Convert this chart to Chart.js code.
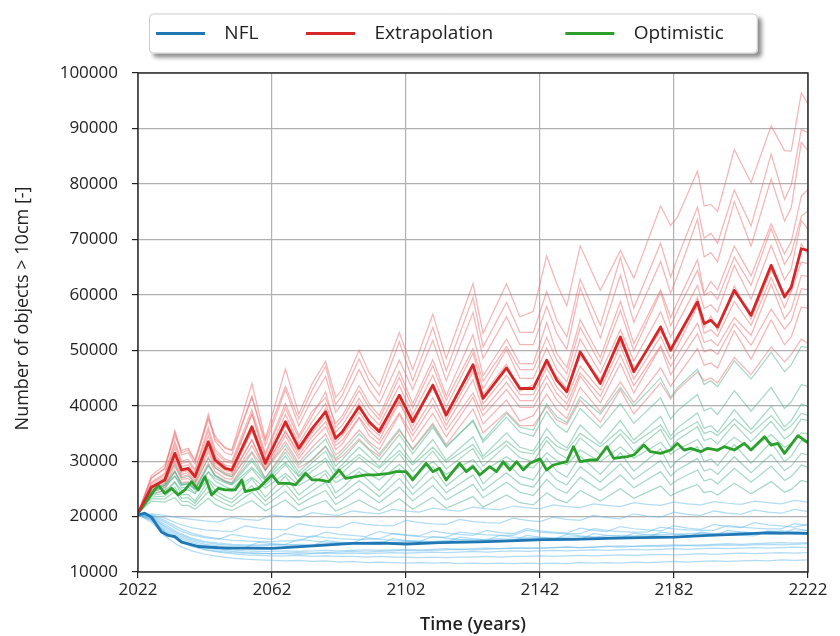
<!DOCTYPE html>
<html>
<head>
<meta charset="utf-8">
<script src="https://cdn.jsdelivr.net/npm/chart.js@4/dist/chart.umd.min.js"></script>
<style>
  html, body { margin: 0; padding: 0; background: #ffffff; }
  #wrap { width: 840px; height: 636px; }
</style>
</head>
<body>
<div id="wrap"><canvas id="c" width="840" height="636"></canvas></div>
<script>
// ---- series names -------------------------------------------------------
const seriesNames = ['NFL', 'Extrapolation', 'Optimistic'];

// ---- ensemble means (years at the turning points of each curve) ----------
const blueYears = [2022,2024,2026,2029,2031,2033,2035,2040,2048,2054,2062,2073,2086,2095,2102,2112,2124,2133,2143,2152,2162,2172,2182,2192,2200,2210,2222];
const blueMean  = [20300,20600,19900,17200,16600,16400,15400,14600,14300,14300,14250,14650,15150,15200,15050,15300,15450,15600,15850,15900,16050,16200,16300,16600,16800,17050,16950];

const redYears = [2022,2026,2030,2033,2035,2037,2039,2043,2045,2048,2050,2056,2060,2066,2070,2074,2078,2081,2083,2088,2091,2094,2100,2104,2110,2114,2122,2125,2132,2136,2140,2144,2147,2150,2154,2160,2166,2170,2178,2181,2183,2189,2191,2193,2195,2200,2205,2211,2215,2217,2220,2222];
const redMean  = [20600,25300,26600,31400,28400,28700,27200,33500,30200,28700,28400,36200,29600,37100,32300,35900,38900,34100,35300,39800,37100,35300,41900,37100,43700,38300,47400,41300,46800,43100,43100,48200,44600,42500,49700,44000,52400,46100,54200,50000,52300,58700,54800,55400,54200,60800,56300,65300,59600,61400,68300,68000];

const greenYears = [2022,2028,2030,2032,2034,2036,2038,2040,2042,2044,2046,2048,2051,2053,2054,2058,2062,2064,2067,2069,2072,2074,2076,2079,2082,2084,2087,2090,2093,2097,2099,2102,2104,2108,2110,2112,2114,2118,2120,2122,2124,2127,2129,2131,2133,2135,2137,2139,2142,2144,2146,2150,2152,2154,2157,2159,2162,2164,2168,2170,2173,2175,2178,2181,2183,2185,2187,2190,2192,2195,2197,2200,2203,2205,2209,2211,2213,2215,2219,2222];
const greenMean  = [20600,25700,24200,25100,23900,24800,26300,24800,27200,23900,25100,24800,24800,26600,24500,25100,27500,26000,26000,25700,27800,26600,26600,26300,28400,26900,27200,27500,27500,27800,28100,28100,26600,29600,28100,28700,26600,29600,28100,29000,27500,29000,28100,29900,28400,29900,28400,29600,30400,28400,29300,29900,32600,29900,30200,30200,32600,30500,30800,31100,32900,31700,31400,32000,33200,32000,32300,31700,32300,32000,32600,32000,33200,32000,34400,32900,33200,31400,34600,33300];

// ---- individual Monte Carlo runs: Extrapolation (sampled on redYears) -----
const redRuns = [
  [20600,23900,24800,28200,26100,26300,25200,29600,27300,26300,26100,31500,26900,32200,28800,30200,32600,30100,30900,34000,32200,30900,35500,32200,36800,33000,39400,35100,38900,36400,36400,39900,37400,36600,41000,37000,42900,38500,44100,41200,42800,46100,44500,45000,44100,48700,45600,50600,47900,49200,52000,51200],
  [20600,24300,25300,29000,26700,26900,25700,30700,28100,26900,26700,32800,28400,33500,29700,32500,34900,31100,32100,35600,33500,32100,38400,33500,38600,34400,41500,36700,41000,37200,38200,42100,39300,37700,43300,38900,44300,40500,46800,43500,45300,50300,47300,47700,46800,53500,48400,55500,51000,52400,57800,57600],
  [20600,24600,25700,29800,27200,27500,26200,31600,28800,27500,27200,33900,28300,34600,30500,33600,36200,32100,33100,37800,34600,33100,38700,34600,40200,35600,42300,38200,42900,39700,39700,44100,41000,39200,45300,40500,47600,42300,50600,45600,47500,53000,49700,50200,49200,54800,50900,57400,53800,55300,61100,60900],
  [20600,24800,26000,30300,27600,27900,26500,32200,29200,27900,27600,33800,28700,35500,31100,34400,37100,32800,33800,37900,35500,33800,40600,35500,41400,36500,44700,39200,44200,40900,40900,45400,42200,40300,45900,41700,49200,43600,50800,47100,49100,54900,51400,51900,50800,55900,52700,61900,55700,57300,63500,63300],
  [20600,25100,26300,30900,28000,28300,26900,32900,29700,28300,28000,35400,29200,35200,31700,35100,38000,33400,34600,38800,36300,34600,40800,36300,43900,37400,46100,40300,45500,42000,42000,46800,43400,41400,47100,42800,50800,44800,52500,48500,50700,58000,53100,53700,52500,58800,54500,63100,57700,60600,65900,65600],
  [20600,25000,26900,31000,28800,28300,27600,33000,30600,29100,28000,35500,30200,36400,32800,35300,39500,34600,34800,40500,36600,35900,41200,37800,43000,38900,46600,42000,47500,42600,43800,47400,45300,43100,48900,44800,51500,46800,53300,50800,51600,59500,54100,56200,53500,61600,55600,64400,60300,60700,69200,67300],
  [20600,25700,27100,32300,29000,29300,27700,34500,31000,29300,29000,38500,30300,38400,33200,37100,40400,35200,36500,41300,38400,36500,43600,38400,45500,39700,49500,43000,50100,44900,44900,50400,46500,44300,52000,45900,53700,48100,56900,52400,54800,61700,57500,58200,56900,65300,59200,68900,62700,64700,73400,71800],
  [20600,26000,27500,33000,29600,29900,28200,35400,31600,29900,29600,38500,31000,39600,34100,38200,42500,36100,37500,42700,39600,37500,45100,39600,47200,41000,50300,44400,50700,46500,46500,52300,48200,45800,54100,47500,57200,49900,60500,54400,57100,64400,59900,60600,59200,66800,61700,72000,65500,67500,74200,75100],
  [20600,26200,27800,33600,30000,30300,28500,36100,32100,30300,30000,39300,31400,40400,34600,39000,41400,36800,38200,43600,40400,38200,46200,40400,48300,41800,52800,45400,52000,47600,47600,55000,49400,46900,55500,48700,58800,51200,60900,55900,58600,66300,60300,62400,60900,68800,63400,72800,67400,69600,77800,79000],
  [20600,26900,28700,35200,31100,31500,29500,38000,33600,31500,31100,41700,32800,42900,36400,41300,45300,38800,40400,46500,42900,40400,48200,42900,51800,44500,56800,48500,56000,51000,51000,57900,53000,50200,61200,52200,63500,55000,66000,60300,63400,73600,66800,67600,66000,76800,68800,80900,73300,75700,87500,86000],
  [20600,27400,29300,34500,31900,32300,30200,37500,34500,32300,31900,41500,33700,43500,37600,42800,47100,40200,41900,48400,44500,41900,51500,44500,54100,46300,59500,50600,58600,53200,53200,60600,55400,52400,62800,54500,66700,57600,69300,63200,66600,75800,70200,71100,69300,78900,72400,85400,77200,79800,89800,89300],
  [20600,27000,28600,35500,31500,32000,30000,38500,34000,32500,32000,44000,34000,46600,38500,44000,48000,41500,43000,50000,46000,43500,53200,46500,56500,48500,62000,53000,62000,56000,57000,67000,62000,58000,68800,60800,68000,63000,76000,72500,74000,82300,76000,76300,75000,86200,80200,90500,86000,85900,96400,94400]
];

// ---- individual Monte Carlo runs: Optimistic (sampled on redYears) --------
const greenRuns = [
  [20600,22800,22600,23400,22000,22000,21300,23300,22200,21400,21100,22900,21000,23000,21000,22000,22900,21000,21500,23000,22000,21100,23200,21300,23500,21500,23600,21700,23900,22500,22100,24300,23100,22500,24700,22800,25000,23300,25500,23700,24400,25800,24300,24600,23900,26000,24100,26300,24400,24900,26500,26200],
  [20600,23200,23200,24500,22800,22700,21900,24500,23200,22300,21800,24400,22000,24600,22100,23500,24700,22200,22900,25000,23700,22500,25300,22800,25600,23000,25800,23400,26200,24400,23800,26700,25000,24200,27100,24700,27500,25200,28100,25700,26600,28400,26400,26800,25900,28700,26200,29100,26500,27200,29300,28900],
  [20600,23500,23700,25300,23300,23400,22400,25500,24000,23000,22500,25600,22800,25900,23000,24600,26200,23300,24100,26500,25100,23600,26900,24000,27200,24300,27500,24700,27900,25900,25300,28500,26600,25700,29000,26200,29500,26700,30100,27300,28400,30500,28200,28600,27600,30800,27900,31200,28300,29100,31400,31100],
  [20600,23800,24200,26200,23900,24000,22800,26500,24800,23600,23100,26800,23500,27300,23900,25800,27700,24300,25200,28100,26400,24700,28600,25100,29000,25500,29400,25900,29800,27300,26600,30500,28200,27100,30900,27600,31500,28200,32200,28800,30100,32600,29900,30400,29200,33000,29600,33400,29900,30900,33700,33300],
  [20600,24100,24700,26200,24700,24800,24100,26700,25600,24900,24500,27100,25100,27800,25600,27000,28300,26100,26800,28800,27700,26600,29400,27200,29900,27600,30300,28100,30800,29200,28800,31500,30100,29300,32000,29900,32600,30500,33400,31200,32100,33900,32100,32400,31700,34300,32100,34800,32500,33200,35100,34900],
  [20600,24400,25200,27300,25200,25300,24300,28000,26400,25400,24900,28600,25600,29400,26200,28200,30000,26900,27900,30700,29100,27500,31300,28100,31800,28600,32300,29100,32900,30600,29900,33700,31600,30500,34200,31200,34900,31800,35700,32500,33800,36200,33700,34100,33100,36700,33500,37200,34000,34900,37600,37300],
  [20600,24600,25600,27300,25700,25900,25000,28100,26900,26100,25700,28900,26500,29800,27200,28900,30500,28000,28800,31200,29900,28700,31900,29300,32500,29800,33000,30400,33600,31700,31300,34400,32700,31900,35000,32600,35700,33200,36500,33900,35000,37100,35000,35400,34600,37600,35000,38200,35500,36400,38600,38300],
  [20600,24800,25900,28200,25900,26100,25000,29100,27400,26300,25800,30000,26600,30900,27400,29700,31800,28300,29400,32500,30800,29000,33200,29700,33900,30200,34400,30900,35100,32500,31800,35900,33600,32400,36500,33100,37300,33800,38100,34500,36000,38700,35900,36400,35200,39300,35700,39900,36200,37300,40300,39900],
  [20600,25300,26700,29400,27000,27300,26100,30500,28800,27700,27200,31700,28300,32900,29300,31700,34000,30400,31500,34900,33100,31300,35800,32000,36500,32700,37200,33400,37900,35200,34500,38900,36500,35200,39500,36000,40400,36800,41400,37600,39100,42000,39100,39600,38400,42700,39000,43300,39500,40700,43800,43500],
  [20600,24500,25600,28000,25700,25900,24800,29300,27500,26500,26000,30500,27000,31600,28000,30400,32700,29100,30300,33700,32000,30200,34800,31300,36100,32500,37400,33800,38600,36100,35600,40300,38000,37000,41600,38500,43300,39900,45000,41500,43200,46600,43800,44500,43400,48100,44800,49600,46100,47400,50700,50500]
];

// ---- run years for NFL runs ----------------------------------------------
const runYears = [2022,2026,2030,2034,2038,2042,2046,2050,2054,2058,2062,2066,2070,2074,2078,2082,2086,2090,2094,2098,2102,2106,2110,2114,2118,2122,2126,2130,2134,2138,2142,2146,2150,2154,2158,2162,2166,2170,2174,2178,2182,2186,2190,2194,2198,2202,2206,2210,2214,2218,2222];

// ---- individual Monte Carlo runs: NFL ------------------------------------
const blueRuns = [
  [20300,19000,16500,14800,13800,13200,12800,12500,12300,12200,12100,12000,12100,11900,12000,11800,11900,11700,11800,11700,11600,11700,11600,11700,11500,11600,11500,11600,11500,11600,11500,11600,11500,11700,11600,11700,11600,11800,11700,11800,11900,11800,11900,12000,11900,12000,12100,12000,12200,12100,12200],
  [20300,19300,17200,15600,14600,14000,13600,13300,13100,13000,12900,12900,13000,12800,12900,12800,12800,12700,12800,12700,12700,12600,12700,12600,12700,12700,12800,12700,12800,12800,12900,12800,12900,13000,12900,13000,13100,13000,13100,13200,13100,13200,13300,13200,13300,13400,13300,13400,13500,13400,13500],
  [20300,19600,17800,16300,15300,14700,14300,14000,13800,13700,13700,13800,13700,13800,13900,13800,13900,14000,13900,14000,14100,14000,14100,14200,14100,14200,14300,14200,14300,14400,14300,14400,14500,14400,14500,14600,14500,14600,14700,14600,14700,14800,14700,14800,14900,14800,14900,15000,14900,15000,15100],
  [20300,19900,18300,16900,15900,15300,15000,14800,14700,14700,14800,14900,15000,14900,15100,15200,15100,15300,15400,15300,15500,15600,15500,15700,15800,15700,15900,16000,15900,16100,16200,16100,16300,16400,16300,16500,16600,16500,16700,16800,16700,16900,17000,16900,17100,17200,17100,17300,17400,17300,17500],
  [20300,20100,19000,17600,16700,16200,15900,16800,16400,16100,15900,16900,16500,16300,17200,16800,16600,16400,17300,16900,16700,16500,17400,17000,16800,16600,17500,17100,16900,17800,17400,17200,17000,17900,17500,17300,18200,17800,17600,17400,18300,17900,17700,18600,18200,18000,18900,18500,18300,18100,18600],
  [20300,20300,19700,18700,18000,17600,17400,17300,18300,17900,17700,17600,18700,18300,18100,18000,19000,18600,18400,18300,19300,18900,18700,18600,19500,19100,18900,18800,19700,19300,19100,19900,19500,19300,20200,19800,19600,20500,20100,19900,20800,20400,20200,21000,20600,20400,21200,20800,20600,21300,20900],
  [20300,19500,17500,16000,15000,14400,14000,13700,13500,13400,13300,13300,13200,13300,13400,13300,13400,13300,13400,13500,13400,13500,13600,13500,13600,13700,13600,13700,13800,13700,13800,13900,13800,13900,14000,13900,14000,14100,14000,14100,14200,14100,14200,14300,14200,14300,14400,14300,14400,14500,14400],
  [20300,19800,18100,16600,15600,15000,14700,14500,14400,15400,15100,14900,14800,14700,15700,15400,15200,15100,15000,16000,15700,15500,15400,15300,16300,16000,15800,15700,15600,16600,16300,16100,16000,15900,16900,16600,16400,16300,16200,17200,16900,16700,16600,16500,17500,17200,17000,16900,16800,17800,17500],
  [20300,20500,20200,19800,19500,19200,19000,19800,19500,19300,20300,20000,19800,20700,20400,20200,21000,20700,20500,21300,21000,20800,21500,21200,21000,21700,21400,21200,21900,21600,21400,22100,21800,21600,22300,22000,21800,22500,22200,22000,22600,22300,22100,22700,22400,22200,22800,22500,22300,22900,22600],
  [20300,20000,18600,17100,16100,15500,15200,15000,14900,14900,15000,15000,15900,15600,15400,15300,15200,16200,15900,15700,15600,15500,16400,16100,15900,15800,15700,16600,16300,16100,16000,15900,16800,16500,16300,16200,16100,17000,16700,16500,16400,16300,17200,16900,16700,16600,16500,17400,17100,16900,16800],
  [20300,19400,17300,15700,14700,14100,13700,13500,13400,13300,13300,13400,13500,13400,13500,13600,13700,13600,13700,13800,13900,13800,13900,14000,14100,14000,14100,14200,14300,14200,14300,14400,14500,14400,14500,14600,14700,14600,14700,14800,14900,14800,14900,15000,15100,15000,15100,15200,15300,15200,15300],
  [20300,20200,19300,18000,17000,16400,16000,15700,15600,15500,15500,15600,15600,16500,16200,16000,15900,15900,16000,16900,16600,16400,16300,16300,17200,16900,16700,16600,16600,17500,17200,17000,16900,16900,17800,17500,17300,17200,17200,18100,17800,17600,17500,17500,18400,18100,17900,17800,17800,18700,18400]
];

// ---- axis ticks ----------------------------------------------------------
const xTickStart = 2022, xTickEnd = 2222, xTickStep = 40;
const yTickStart = 10000, yTickEnd = 100000, yTickStep = 10000;

// ---- styling -------------------------------------------------------------
const FONT = "'Open Sans', 'DejaVu Sans', sans-serif";
const meanColors = ['#1f77b4', '#d62728', '#2ca02c'];
const runColors  = ['rgba(100,185,235,0.50)', 'rgba(238,110,110,0.50)', 'rgba(60,172,128,0.46)'];

const pts = (xs, ys) => ys.map((v, i) => ({ x: xs[i], y: v }));

const runDataset = (xs, ys, color, order) => ({
  label: '', data: pts(xs, ys), borderColor: color, borderWidth: 1.25,
  pointRadius: 0, fill: false, order
});
const meanDataset = (name, xs, ys, color) => ({
  label: name, data: pts(xs, ys), borderColor: color, backgroundColor: color,
  borderWidth: 2.8, borderJoinStyle: 'round', borderCapStyle: 'round',
  pointRadius: 0, fill: false, order: 0
});

const datasets = [
  meanDataset(seriesNames[0], blueYears, blueMean, meanColors[0]),
  meanDataset(seriesNames[1], redYears, redMean, meanColors[1]),
  meanDataset(seriesNames[2], greenYears, greenMean, meanColors[2]),
];
greenRuns.forEach(r => datasets.push(runDataset(redYears, r, runColors[2], 1)));
redRuns.forEach(r => datasets.push(runDataset(redYears, r, runColors[1], 2)));
blueRuns.forEach(r => datasets.push(runDataset(runYears, r, runColors[0], 3)));

// legend text spacing: gap after the handle and between columns
const legendLead = [2, 2, 2];
const legendTrail = [6, 11, 0];

// extra room under the legend row
const legendSpacing = {
  id: 'legendSpacing',
  beforeInit(chart) {
    const lg = chart.legend;
    const fit = lg.fit;
    lg.fit = function () { fit.call(this); this.height += 20; };
  }
};

// framed legend box with a soft drop shadow
const legendFrame = {
  id: 'legendFrame',
  beforeDraw(chart) {
    const lg = chart.legend;
    if (!lg || !lg.legendHitBoxes || !lg.legendHitBoxes.length) return;
    const hb = lg.legendHitBoxes;
    const cy = hb[0].top + hb[0].height / 2;
    const x0 = hb[0].left - 7;
    const last = hb[hb.length - 1];
    const x1 = last.left + last.width + 34;
    const y0 = cy - 20, y1 = cy + 20;
    const c = chart.ctx;
    c.save();
    c.shadowColor = 'rgba(0,0,0,0.45)';
    c.shadowOffsetX = 4; c.shadowOffsetY = 4; c.shadowBlur = 4;
    c.fillStyle = '#ffffff';
    c.beginPath(); c.roundRect(x0, y0, x1 - x0, y1 - y0, 4); c.fill();
    c.restore();
    c.save();
    c.strokeStyle = '#cccccc'; c.lineWidth = 1;
    c.beginPath(); c.roundRect(x0 + 0.5, y0 + 0.5, x1 - x0 - 1, y1 - y0 - 1, 4); c.stroke();
    c.restore();
  }
};

// dark box around the plotting area
const plotFrame = {
  id: 'plotFrame',
  afterDatasetsDraw(chart) {
    const a = chart.chartArea, c = chart.ctx;
    c.save();
    c.strokeStyle = '#222222'; c.lineWidth = 1.4;
    c.strokeRect(a.left, a.top, a.right - a.left, a.bottom - a.top);
    c.restore();
  }
};

new Chart(document.getElementById('c'), {
  type: 'line',
  data: { datasets },
  options: {
    responsive: false,
    animation: false,
    devicePixelRatio: 1,
    layout: { padding: { left: 8, right: 32, top: 6, bottom: 0 } },
    elements: { point: { radius: 0 }, line: { tension: 0 } },
    plugins: {
      tooltip: { enabled: false },
      legend: {
        position: 'top',
        fullSize: false,
        align: 'start',
        labels: {
          boxWidth: 49,
          boxHeight: 3,
          padding: 18,
          color: '#222222',
          font: { family: FONT, size: 19 },
          generateLabels: () => seriesNames.map((name, k) => ({
            text: ' '.repeat(legendLead[k]) + name + ' '.repeat(legendTrail[k]),
            fillStyle: meanColors[k],
            strokeStyle: meanColors[k],
            lineWidth: 0,
            hidden: false,
            datasetIndex: k,
            fontColor: '#222222'
          }))
        }
      }
    },
    scales: {
      x: {
        type: 'linear',
        min: xTickStart,
        max: xTickEnd,
        ticks: {
          stepSize: xTickStep, padding: 2, color: '#222222', maxRotation: 0, autoSkip: false,
          font: { family: FONT, size: 17 },
          callback: v => String(v)
        },
        grid: { color: '#b0b0b0', lineWidth: 1.2, tickLength: 6, tickColor: '#222222', tickWidth: 1.2 },
        border: { display: false },
        title: {
          display: true, text: 'Time (years)', color: '#222222',
          font: { family: FONT, size: 18, weight: '600' },
          padding: { top: 12, bottom: 0 }
        }
      },
      y: {
        min: yTickStart,
        max: yTickEnd,
        ticks: {
          stepSize: yTickStep, padding: 14, color: '#222222',
          font: { family: FONT, size: 17 },
          callback: v => String(v)
        },
        grid: { color: '#b0b0b0', lineWidth: 1.2, tickLength: 6, tickColor: '#222222', tickWidth: 1.2 },
        border: { display: false },
        afterFit: s => { s.width = 130; },
        title: {
          display: true, text: '      Number of objects > 10cm [-]', color: '#222222',
          font: { family: FONT, size: 18 },
          padding: { top: 4, bottom: 4 }
        }
      }
    }
  },
  plugins: [legendSpacing, legendFrame, plotFrame]
});
</script>
</body>
</html>
